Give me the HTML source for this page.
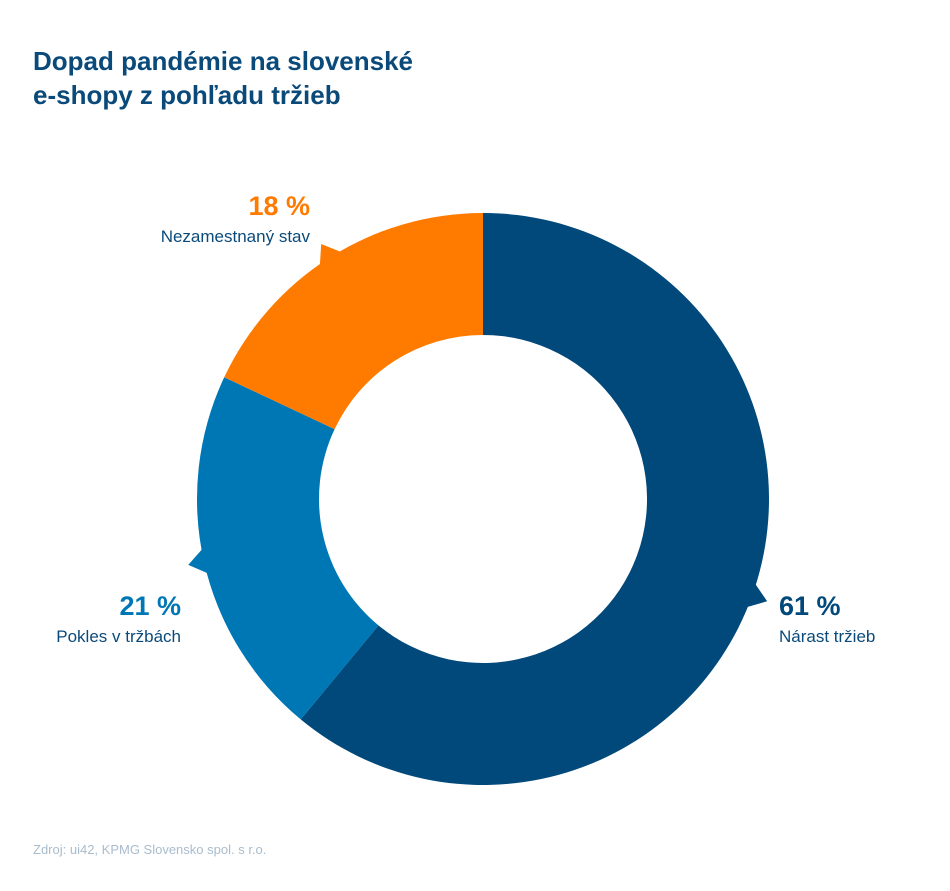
<!DOCTYPE html>
<html><head><meta charset="utf-8"><style>
body{margin:0;background:#fff;width:950px;height:891px;overflow:hidden;font-family:"Liberation Sans",sans-serif}
.t{position:absolute;left:33px;top:44px;color:#0a4a7a;font-weight:bold;font-size:26px;line-height:34px}
.src{position:absolute;left:33px;top:842px;color:#a9bccd;font-size:13px}
</style></head><body>
<div class="t">Dopad pandémie na slovenské<br>e-shopy z pohľadu tržieb</div>
<svg id="c" width="950" height="891" style="position:absolute;left:0;top:0"></svg>
<div class="src">Zdroj: ui42, KPMG Slovensko spol. s r.o.</div>
<script>
const categories=["Nárast tržieb","Pokles v tržbách","Nezamestnaný stav"];
const values=[61,21,18];
const colors=["#02497b","#0077b5","#ff7b00"];
const labelPos=[{x:779,y:615,a:"start",c:"#02497b"},{x:181,y:615,a:"end",c:"#0077b5"},{x:310,y:215,a:"end",c:"#ff7b00"}];
const cx=483,cy=499,R=286,r=164;
const svg=document.getElementById('c');const NS="http://www.w3.org/2000/svg";
const tot=values.reduce((a,b)=>a+b,0);
function pt(ang,rad){const t=ang*Math.PI/180;return [cx+rad*Math.sin(t),cy-rad*Math.cos(t)];}
let acc=0;
values.forEach((v,i)=>{
 const a0=acc/tot*360,a1=(acc+v)/tot*360;acc+=v;
 const l=(a1-a0)>180?1:0;
 const p0=pt(a0,R),p1=pt(a1,R),q1=pt(a1,r),q0=pt(a0,r);
 const p=document.createElementNS(NS,'path');
 p.setAttribute('d',`M${p0}A${R},${R} 0 ${l} 1 ${p1}L${q1}A${r},${r} 0 ${l} 0 ${q0}Z`);
 p.setAttribute('fill',colors[i]);
 
 
 svg.appendChild(p);
 const m=(a0+a1)/2;
 const tp=pt(m,R+16),b1=pt(m-3,R-4),b2=pt(m+3,R-4);
 const tri=document.createElementNS(NS,'polygon');
 tri.setAttribute('points',`${tp} ${b1} ${b2}`);tri.setAttribute('fill',colors[i]);
 
 
 svg.appendChild(tri);
 const L=labelPos[i];
 const t1=document.createElementNS(NS,'text');
 t1.setAttribute('x',L.x);t1.setAttribute('y',L.y);t1.setAttribute('text-anchor',L.a);
 t1.setAttribute('fill',L.c);t1.setAttribute('font-size','27');t1.setAttribute('font-weight','bold');
 t1.setAttribute('font-family','Liberation Sans, sans-serif');
 t1.textContent=v+' %';
 
 
 svg.appendChild(t1);
 const t2=document.createElementNS(NS,'text');
 t2.setAttribute('x',L.x);t2.setAttribute('y',L.y+27);t2.setAttribute('text-anchor',L.a);
 t2.setAttribute('fill','#0a4a7a');t2.setAttribute('font-size','17');
 t2.setAttribute('font-family','Liberation Sans, sans-serif');
 t2.textContent=categories[i];
 
 
 svg.appendChild(t2);
});
</script>
</body></html>
